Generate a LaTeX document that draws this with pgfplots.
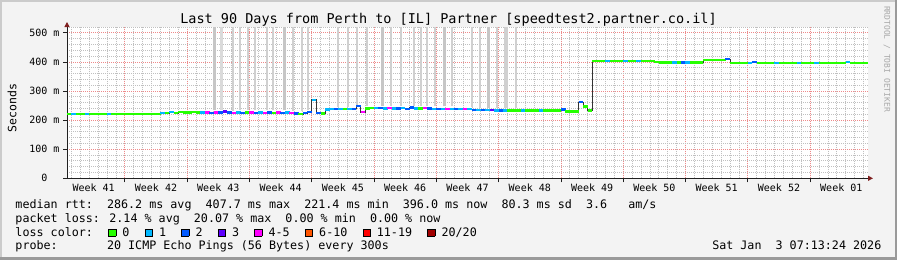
\documentclass[border=0pt]{standalone}
\usepackage{fontspec}
\setmainfont{DejaVu Sans Mono}
\usepackage{pgfplots}
\pgfplotsset{compat=1.18}
\usepackage{pgfplotstable}
\usetikzlibrary{arrows.meta}

\definecolor{bgc}{HTML}{F3F3F3}
\definecolor{shadea}{HTML}{CBCBCB}
\definecolor{shadeb}{HTML}{9A9A9A}
\definecolor{mingrid}{HTML}{C0C0C0}
\definecolor{majgrid}{HTML}{EE8A8A}
\definecolor{axiscol}{HTML}{202020}
\definecolor{arrowcol}{HTML}{7F1F1F}
\definecolor{wmark}{HTML}{A8A8A8}
\definecolor{smokethin}{HTML}{D0D0D0}
\definecolor{smokewide}{HTML}{C6C6C6}
\definecolor{smokemed}{HTML}{DADADA}
\definecolor{c0}{HTML}{26FF00}
\definecolor{c1}{HTML}{00B8FF}
\definecolor{c2}{HTML}{0059FF}
\definecolor{c3}{HTML}{5E00FF}
\definecolor{c5}{HTML}{FF00FF}
\definecolor{c10}{HTML}{FF5500}
\definecolor{c19}{HTML}{FF0000}
\definecolor{c20}{HTML}{A10000}

\newcommand{\lbox}[1]{\makebox[15.4bp][l]{\hspace{1.3bp}{\setlength{\fboxsep}{0pt}\setlength{\fboxrule}{0.8bp}\fcolorbox{black}{#1}{\rule{0pt}{6.4bp}\hspace{6.4bp}}}}}

\pgfplotstableread{
x y c
0.25 222 g
0.75 222 c
1.25 222 g
1.75 222 g
2.25 222 c
2.75 222 g
3.25 222 g
3.75 222 g
4.25 222 g
4.75 222 c
5.25 222 g
5.75 222 g
6.25 222 g
6.75 222 g
7.25 222 g
7.75 222 g
8.25 222 g
8.75 222 g
9.25 222 g
9.75 222 g
10.25 222 g
10.75 224 c
11.25 225 g
11.75 227 c
12.25 225 g
12.75 227 g
13.25 226 g
13.75 226 g
14.25 227 g
14.75 226 g
15.25 226 c
15.75 226 m
16.25 225 b
16.75 226 m
17.25 226 b
17.75 230 p
18.25 226 b
18.75 225 m
19.25 226 c
19.75 225 b
20.25 226 g
20.75 226 m
21.25 225 b
21.75 226 c
22.25 225 m
22.75 226 b
23.25 225 g
23.75 226 m
24.25 225 b
24.75 226 c
25.25 224 m
25.75 223 b
26.25 221 g
26.75 224 b
27.25 227 b
27.75 270 c
28.25 224 b
28.75 223 g
29.25 236 c
29.75 238 c
30.25 238 b
30.75 238 c
31.25 239 g
31.75 238 c
32.25 239 b
32.75 249 b
33.25 228 m
33.75 240 g
34.25 241 g
34.75 241 c
35.25 241 b
35.75 240 c
36.25 241 m
36.75 240 c
37.25 240 b
37.75 241 c
38.25 239 b
38.75 244 b
39.25 240 c
39.75 240 g
40.25 241 m
40.75 240 b
41.25 239 c
41.75 238 b
42.25 239 c
42.75 239 m
43.25 239 c
43.75 238 b
44.25 239 c
44.75 238 m
45.25 238 c
45.75 235 b
46.25 234 c
46.75 234 b
47.25 234 c
47.75 235 p
48.25 233 c
48.75 233 b
49.25 233 c
49.75 233 g
50.25 233 g
50.75 233 g
51.25 233 c
51.75 233 g
52.25 233 g
52.75 233 g
53.25 233 c
53.75 233 g
54.25 233 g
54.75 233 g
55.25 233 g
55.75 236 b
56.25 229 g
56.75 229 g
57.25 229 g
57.75 262 b
58.25 247 g
58.75 233 g
59.25 404 g
59.75 404 g
60.25 404 g
60.75 404 c
61.25 404 g
61.75 404 g
62.25 404 g
62.75 404 c
63.25 404 g
63.75 404 g
64.25 404 c
64.75 404 g
65.25 404 g
65.75 404 g
66.25 399 g
66.75 398 g
67.25 398 g
67.75 398 g
68.25 398 c
68.75 398 g
69.25 398 b
69.75 398 c
70.25 398 g
70.75 398 g
71.25 398 g
71.75 406 g
72.25 406 g
72.75 406 g
73.25 406 g
73.75 407 g
74.25 410 b
74.75 397 g
75.25 397 g
75.75 397 g
76.25 397 g
76.75 397 c
77.25 400 b
77.75 397 g
78.25 397 g
78.75 397 g
79.25 397 g
79.75 397 c
80.25 397 g
80.75 397 g
81.25 397 g
81.75 397 g
82.25 397 c
82.75 397 g
83.25 397 g
83.75 397 g
84.25 397 c
84.75 397 g
85.25 397 g
85.75 397 g
86.25 397 g
86.75 397 g
87.25 397 g
87.75 400 c
88.25 397 g
88.75 397 g
89.25 397 g
89.75 397 g
}\median

\pgfplotstableread{
x y
18.65 233
18.65 520
18.65 nan
19.44 234
19.44 520
19.44 nan
20.34 234
20.34 520
20.34 nan
21.12 234
21.12 520
21.12 nan
22.47 234
22.47 520
22.47 nan
23.15 234
23.15 520
23.15 nan
25.39 232
25.39 520
25.39 nan
26.40 230
26.40 520
26.40 nan
27.08 234
27.08 520
27.08 nan
30.45 246
30.45 520
30.45 nan
31.57 246
31.57 520
31.57 nan
32.58 247
32.58 520
32.58 nan
33.71 248
33.71 520
33.71 nan
36.40 249
36.40 520
36.40 nan
37.53 249
37.53 520
37.53 nan
38.99 248
38.99 520
38.99 nan
39.78 248
39.78 520
39.78 nan
40.45 249
40.45 520
40.45 nan
41.35 247
41.35 520
41.35 nan
43.26 247
43.26 520
43.26 nan
45.51 244
45.51 520
45.51 nan
46.40 242
46.40 520
46.40 nan
48.31 241
48.31 520
48.31 nan
49.21 241
49.21 520
49.21 nan
49.44 241
49.44 520
49.44 nan
50.45 241
50.45 520
}\smokethin

\pgfplotstableread{
x y
17.36 234
17.36 520
}\smokemed

\pgfplotstableread{
x y
16.57 234
16.57 520
16.57 nan
24.49 234
24.49 520
24.49 nan
35.45 249
35.45 520
35.45 nan
42.42 247
42.42 520
42.42 nan
47.36 242
47.36 520
}\smokewide

\begin{document}
\begin{tikzpicture}
\useasboundingbox (0,0) rectangle (897bp,260bp);
\fill[bgc] (0,0) rectangle (897bp,260bp);
\fill[shadea] (0,258bp) rectangle (897bp,260bp);
\fill[shadea] (0,0) rectangle (1.8bp,260bp);
\fill[shadeb] (0,0) rectangle (897bp,2.8bp);
\fill[shadeb] (895bp,0) rectangle (897bp,260bp);

\begin{axis}[
  at={(67bp,81.7bp)}, anchor=south west,
  scale only axis, width=801bp, height=151.3bp,
  xmin=0, xmax=90, ymin=0, ymax=520,
  axis lines=left,
  axis line style={draw=axiscol, line width=1bp},
  x axis line style={-{Triangle[length=5bp,width=5bp,color=arrowcol,fill=arrowcol]}, shorten >=-5bp},
  y axis line style={-{Triangle[length=5bp,width=5bp,color=arrowcol,fill=arrowcol]}, shorten >=-5bp},
  axis background/.style={fill=white},
  xtick={6.5,13.5,...,83.5}, xticklabels={},
  minor xtick={0.5,1.5,...,89.5},
  ytick={0,100,...,500},
  yticklabels={0\phantom{~m},100 m,200 m,300 m,400 m,500 m},
  minor ytick={20,40,60,80,120,140,160,180,220,240,260,280,320,340,360,380,420,440,460,480,520},
  grid=both,
  major grid style={draw=majgrid, line width=0.8bp, dash pattern=on 1bp off 1bp},
  minor grid style={draw=mingrid, line width=0.8bp, dash pattern=on 1bp off 1bp},
  tick align=outside, major tick length=4bp, minor tick length=0bp,
  tick style={draw=axiscol, line width=0.8bp},
  extra x ticks={3,10,...,87},
  extra x tick labels={Week 41,Week 42,Week 43,Week 44,Week 45,Week 46,Week 47,Week 48,Week 49,Week 50,Week 51,Week 52,Week 01},
  extra x tick style={grid=none, major tick length=0pt},
  tick label style={font=\fontsize{10bp}{10bp}\selectfont},
  xticklabel style={yshift=-2bp},
  unbounded coords=jump,
]
\addplot[draw=smokethin, line width=1.25bp] table[x=x,y=y] {\smokethin};
\addplot[draw=smokemed, line width=3bp] table[x=x,y=y] {\smokemed};
\addplot[draw=smokewide, line width=3bp] table[x=x,y=y] {\smokewide};
\addplot[const plot mark mid, draw=black!80, line width=0.6bp, mark=none] table[x=x,y=y] {\median};
\addplot[scatter, only marks, mark=-, mark size=2.35bp, scatter src=explicit symbolic,
  mark options={line width=2.4bp},
  scatter/classes={
    g={mark=-,draw=c0,line width=2.4bp},
    c={mark=-,draw=c1,line width=2.4bp},
    b={mark=-,draw=c2,line width=2.4bp},
    p={mark=-,draw=c3,line width=2.4bp},
    m={mark=-,draw=c5,line width=2.4bp}}]
  table[x=x,y=y,meta=c] {\median};
\end{axis}

\node[font=\fontsize{13.5bp}{14bp}\selectfont, anchor=base, inner sep=0pt] at (448.5bp,236.7bp) {Last 90 Days from Perth to [IL] Partner [speedtest2.partner.co.il]};
\node[font=\fontsize{11.5bp}{12bp}\selectfont, rotate=90, inner sep=0pt] at (12bp,152bp) {Seconds};
\node[font=\fontsize{8bp}{9bp}\selectfont, rotate=-90, inner sep=0pt, text=wmark] at (887bp,201bp) {RRDTOOL / TOBI OETIKER};

\node[font=\fontsize{11.7bp}{12bp}\selectfont, anchor=base west, inner sep=0pt] at (15.3bp,51bp) {median rtt:~~286.2 ms avg~~407.7 ms max~~221.4 ms min~~396.0 ms now~~80.3 ms sd~~3.6~~~am/s};
\node[font=\fontsize{11.7bp}{12bp}\selectfont, anchor=base west, inner sep=0pt] at (15.3bp,37.3bp) {packet loss: 2.14 \% avg~~20.07 \% max~~0.00 \% min~~0.00 \% now};
\node[font=\fontsize{11.7bp}{12bp}\selectfont, anchor=base west, inner sep=0pt] at (15.3bp,24bp) {loss color:~~\lbox{c0}0~~\lbox{c1}1~~\lbox{c2}2~~\lbox{c3}3~~\lbox{c5}4-5~~\lbox{c10}6-10~~\lbox{c19}11-19~~\lbox{c20}20/20};
\node[font=\fontsize{11.7bp}{12bp}\selectfont, anchor=base west, inner sep=0pt] at (15.3bp,10.3bp) {probe:~~~~~~~20 ICMP Echo Pings (56 Bytes) every 300s};
\node[font=\fontsize{11.7bp}{12bp}\selectfont, anchor=base east, inner sep=0pt] at (881.5bp,10.3bp) {Sat Jan~~3 07:13:24 2026};
\end{tikzpicture}
\end{document}
